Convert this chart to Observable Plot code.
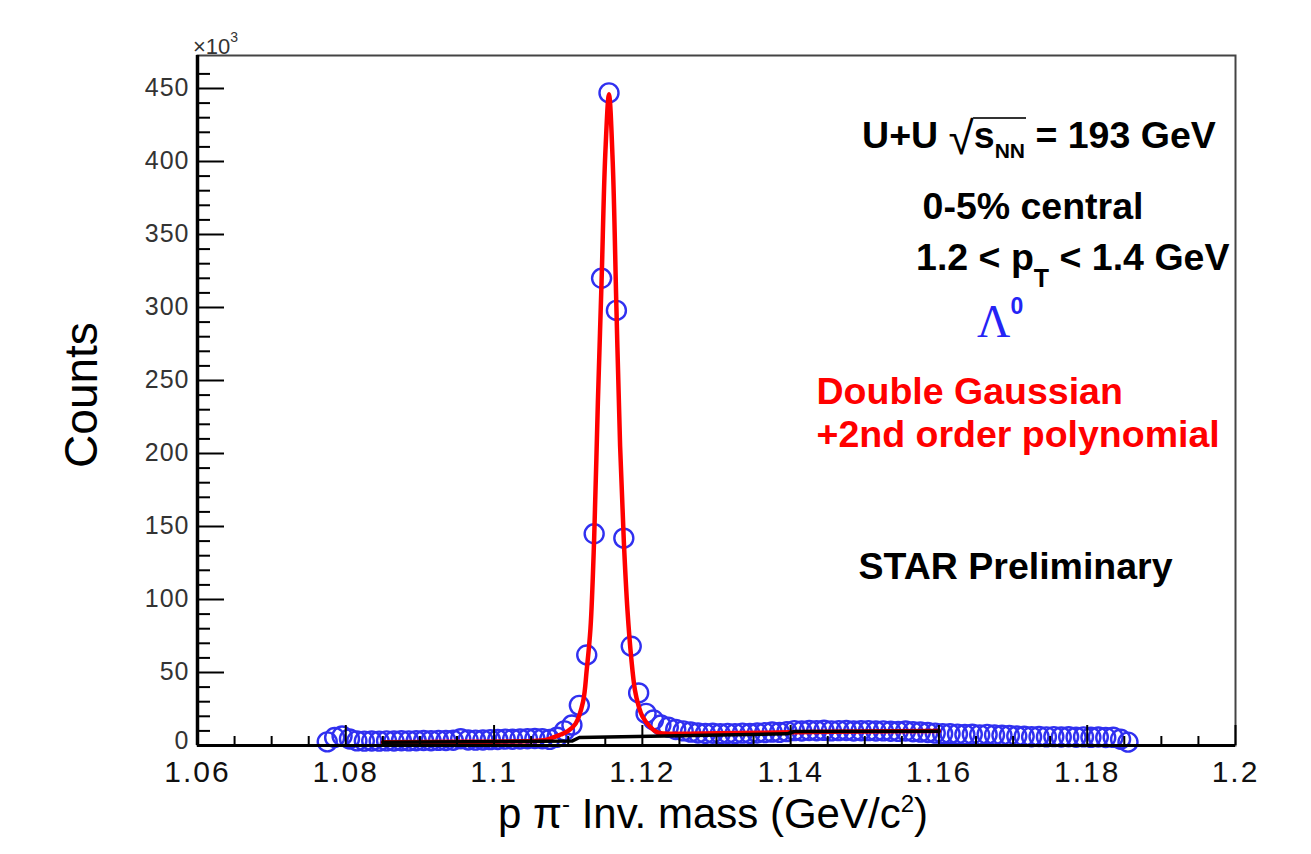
<!DOCTYPE html>
<html><head><meta charset="utf-8">
<script src="https://cdn.jsdelivr.net/npm/d3@7"></script>
<script src="https://cdn.jsdelivr.net/npm/@observablehq/plot@0.6"></script>
<style>html,body{margin:0;padding:0;background:#fff;} #chart{width:1311px;height:854px;}</style>
</head><body><div id="chart"></div>
<script>
// ---- data (counts in units of 10^3) ----
const massBins = [
1.0775,1.0785,1.0795,1.0805,1.0815,1.0825,1.0835,1.0845,1.0855,1.0865,
1.0875,1.0885,1.0895,1.0905,1.0915,1.0925,1.0935,1.0945,1.0955,1.0965,
1.0975,1.0985,1.0995,1.1005,1.1015,1.1025,1.1035,1.1045,1.1055,1.1065,
1.1075,1.1085,1.1095,
1.1105,1.1115,1.1125,1.1135,1.1145,1.1155,1.1165,1.1175,1.1185,1.1195,
1.1205,1.1215,1.1225,1.1235,1.1245,1.1255,1.1265,
1.1275,1.1285,1.1295,1.1305,1.1315,1.1325,1.1335,1.1345,1.1355,1.1365,1.1375,1.1385,1.1395,
1.1405,1.1415,1.1425,1.1435,1.1445,1.1455,1.1465,1.1475,1.1485,1.1495,1.1505,
1.1515,1.1525,1.1535,1.1545,1.1555,1.1565,1.1575,1.1585,1.1595,1.1605,
1.1615,1.1625,1.1635,1.1645,1.1655,1.1665,1.1675,1.1685,1.1695,1.1705,
1.1715,1.1725,1.1735,1.1745,1.1755,1.1765,1.1775,1.1785,1.1795,1.1805,1.1815,1.1825,1.1835,
1.1845,1.1855];
const counts = [
2.5,5.5,6.5,4.5,3.2,3.0,3.1,3.0,3.2,3.1,
3.3,3.2,3.3,3.4,3.3,3.5,3.4,3.6,4.6,3.8,
3.7,3.8,4.0,4.1,4.4,4.3,4.5,4.6,4.8,4.6,
4.2,5.7,10,
14,27.5,62,145,320,447,298,142,68,36,
22,17.5,14,12.5,11,10,9.2,
8.6,8.2,8.4,8.0,8.3,8.1,8.5,8.2,8.6,8.8,9.2,9.0,9.5,
10.2,9.9,10.3,10.1,10.4,10.0,10.2,10.3,9.9,10.1,
10.2,9.9,10.0,9.8,9.7,9.9,9.4,9.2,8.9,8.5,8.1,
8.0,7.8,7.5,7.7,7.3,7.6,7.2,7.0,6.8,6.5,
6.3,6.0,6.2,5.9,6.1,5.8,6.0,5.7,5.9,5.6,5.8,5.5,5.6,
4.3,2.3];

// fit: double Gaussian + pol2
const fitMass = [1.085,1.095,1.105,1.107,1.108,1.109,1.110,1.111,1.112,1.1125,1.113,1.1135,1.114,1.1145,
  1.115,1.1155,1.116,1.1165,1.117,1.1175,1.118,1.1185,1.119,1.1195,1.120,1.121,1.122,1.123,1.124,1.130,1.140,1.150,1.160];
const fitCounts = [2.3,2.6,3.0,3.8,5.5,7.5,10,15,30,52,80,142,235,318,
  405,446,400,300,205,140,92,60,38,27,20,13,9,8.2,8.0,8.4,9.0,9.6,9.9];

// background pol2 (black line)
const bgMass = [1.085,1.1105,1.1115,1.1395,1.1405,1.160];
const bgCounts = [2.3,3.0,5.5,8.0,9.6,9.8];

// axis ticks
const xMajorTicks = [1.06,1.08,1.10,1.12,1.14,1.16,1.18,1.20];
const xTickLabels = ["1.06","1.08","1.1","1.12","1.14","1.16","1.18","1.2"];
const xMinorTicks = [1.065,1.07,1.075,1.085,1.09,1.095,1.105,1.11,1.115,1.125,1.13,1.135,
  1.145,1.15,1.155,1.165,1.17,1.175,1.185,1.19,1.195];
const yMajorTicks = [0,50,100,150,200,250,300,350,400,450];
const yTickLabels = ["0","50","100","150","200","250","300","350","400","450"];
const yMinorTicks = [10,20,30,40,60,70,80,90,110,120,130,140,160,170,180,190,210,220,230,240,
  260,270,280,290,310,320,330,340,360,370,380,390,410,420,430,440,460];

// ---- build ----
const hist = massBins.map((m, i) => ({m, c: counts[i]}));
const fit = fitMass.map((m, i) => ({m, c: fitCounts[i]}));
const bg = bgMass.map((m, i) => ({m, c: bgCounts[i]}));

const FONT = "'Liberation Sans', Arial, Helvetica, sans-serif";
const ANN = 37.5;

const plot = Plot.plot({
  width: 1311, height: 854,
  marginLeft: 197, marginRight: 76, marginTop: 55, marginBottom: 109,
  x: {domain: [1.06, 1.2]},
  y: {domain: [0, 472.6]},
  style: {fontFamily: FONT, background: "#fff", color: "#000", overflow: "visible"},
  marks: [
    Plot.frame({stroke: "#444", strokeWidth: 2}),
    Plot.dot(hist, {x: "m", y: "c", r: 9.5, stroke: "#3030f0", strokeWidth: 2.4, fill: "none"}),
    Plot.line(fit, {x: "m", y: "c", stroke: "#ff0000", strokeWidth: 4.5, curve: "catmull-rom"}),
    Plot.line(bg, {x: "m", y: "c", stroke: "#000", strokeWidth: 3.5}),
    Plot.ruleX([1.06], {stroke: "#000", strokeWidth: 3.5}),
    Plot.ruleY([0], {stroke: "#000", strokeWidth: 3}),
    Plot.axisX({ticks: xMajorTicks, tickFormat: d => xTickLabels[xMajorTicks.indexOf(d)],
      tickSize: -20, tickPadding: 35.5, fontSize: 30, strokeWidth: 2, label: null, fill: "#111",
      ariaLabel: "x-major"}),
    Plot.axisX({ticks: xMinorTicks, tickSize: -9, strokeWidth: 2, fill: "none", label: null}),
    Plot.axisY({ticks: yMajorTicks, tickFormat: d => yTickLabels[yMajorTicks.indexOf(d)],
      tickSize: -27, tickPadding: 35, fontSize: 25, strokeWidth: 2, fill: "#333", label: null,
      ariaLabel: "y-major"}),
    Plot.axisY({ticks: yMinorTicks, tickSize: -13, strokeWidth: 2, fill: "none", label: null}),
    Plot.text(["0-5% central"], {x: 1.15779, y: 368.5, text: d => d, textAnchor: "start",
      fontSize: ANN, fontWeight: "bold", fill: "#000"}),
    Plot.text(["Double Gaussian"], {x: 1.14349, y: 241.8, text: d => d, textAnchor: "start",
      fontSize: ANN, fontWeight: "bold", fill: "#ff0000"}),
    Plot.text(["+2nd order polynomial"], {x: 1.14349, y: 213.0, text: d => d, textAnchor: "start",
      fontSize: ANN, fontWeight: "bold", fill: "#ff0000"}),
    Plot.text(["STAR Preliminary"], {x: 1.14916, y: 122.6, text: d => d, textAnchor: "start",
      fontSize: ANN, fontWeight: "bold", fill: "#000"})
  ]
});
document.getElementById("chart").append(plot);

// slightly wider tick labels (ROOT-like)
d3.select(plot).selectAll("g[aria-label^='x-major'] text").attr("letter-spacing", "2px");
d3.select(plot).selectAll("g[aria-label^='y-major'] text").attr("letter-spacing", "1px")
  .filter(function() { return this.textContent === "0"; })
  .attr("dy", "-0.18em"); // keep the y "0" clear of the "1.06" label

const sx = plot.scale("x"), sy = plot.scale("y");
const g = d3.select(plot).append("g").attr("class", "rich-annotations");

function richText({x, y, anchor = "start", size, weight = "bold", fill = "#000", family, rotate}, parts) {
  const t = g.append("text").attr("x", x).attr("y", y).attr("text-anchor", anchor)
    .attr("font-size", size).attr("font-weight", weight).attr("fill", fill);
  if (family) t.attr("font-family", family);
  if (rotate) t.attr("transform", `rotate(${rotate} ${x} ${y})`);
  let shift = 0;
  for (const p of parts) {
    const s = t.append("tspan").text(p.t);
    const target = p.dy || 0;
    if (target !== shift) { s.attr("dy", target - shift); shift = target; }
    if (p.size) s.attr("font-size", p.size);
    if (p.weight) s.attr("font-weight", p.weight);
    if (p.family) s.attr("font-family", p.family);
  }
  return t;
}

// U+U sqrt(s_NN) = 193 GeV
const eX = sx.apply(1.1497), eY = sy.apply(408.9);
const energy = richText({x: eX, y: eY, size: ANN}, [
  {t: "U+U "}, {t: "√", weight: "normal", size: 46, dy: 6}, {t: "s"}, {t: "NN", size: 21, dy: 10}, {t: " = 193 GeV"}
]);
{
  const node = energy.node();
  const ctx = document.createElement("canvas").getContext("2d");
  ctx.font = "normal 46px 'Liberation Sans', Arial, sans-serif";
  const m = ctx.measureText("√");
  const start = node.getStartPositionOfChar(4);
  const end = node.getEndPositionOfChar(7);
  const topY = start.y - (m.actualBoundingBoxAscent || 38) + 1;
  g.append("line")
    .attr("x1", start.x + (m.actualBoundingBoxRight || 25) - 1.5).attr("x2", end.x + 1)
    .attr("y1", topY).attr("y2", topY)
    .attr("stroke", "#333").attr("stroke-width", 2);
}

// 1.2 < pT < 1.4 GeV
richText({x: sx.apply(1.15698), y: sy.apply(325.3), size: ANN}, [
  {t: "1.2 < p"}, {t: "T", size: 25, dy: 17}, {t: " < 1.4 GeV"}
]);

// Lambda^0
richText({x: sx.apply(1.16521), y: sy.apply(279.5), size: 46, weight: "normal", fill: "#2424f5",
  family: "'Liberation Serif', 'DejaVu Serif', serif"}, [
  {t: "Λ"}, {t: "0", size: 23, dy: -23, weight: "bold", family: FONT}
]);

// axis titles
richText({x: 97, y: 395, anchor: "middle", size: 46, weight: "normal", rotate: -90}, [{t: "Counts"}]);
richText({x: 713, y: 828, anchor: "middle", size: 42, weight: "normal"}, [
  {t: "p π"}, {t: "-", size: 24, dy: -16}, {t: " Inv. mass (GeV/c"}, {t: "2", size: 24, dy: -16}, {t: ")"}
]);
// exponent
richText({x: 193, y: 54, size: 22, weight: "normal", fill: "#333"}, [{t: "×10"}, {t: "3", size: 14, dy: -12}]);
</script>
</body></html>
